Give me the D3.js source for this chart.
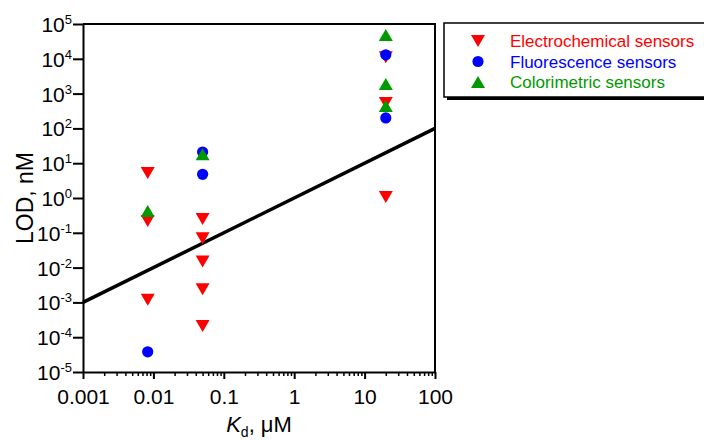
<!DOCTYPE html>
<html><head><meta charset="utf-8">
<script src="https://cdn.jsdelivr.net/npm/d3@7"></script>
<style>
html,body{margin:0;padding:0;background:#fff;}
svg{display:block;font-family:"Liberation Sans",Arial,sans-serif;}
</style></head>
<body>
<svg id="chart" width="704" height="440"></svg>
<script>
// ---- data ----
const xTickValues = [0.001, 0.01, 0.1, 1, 10, 100];
const xTickLabels = ["0.001", "0.01", "0.1", "1", "10", "100"];
const yTickValues = [1e-5, 1e-4, 1e-3, 1e-2, 1e-1, 1e0, 1e1, 1e2, 1e3, 1e4, 1e5];
const yTickExponents = ["-5", "-4", "-3", "-2", "-1", "0", "1", "2", "3", "4", "5"];

const electroKd  = [0.0083, 0.0083, 0.0083, 0.05, 0.05, 0.05, 0.05, 0.05, 20, 20, 20];
const electroLOD = [5.2, 0.22, 0.0012, 0.25, 0.07, 0.015, 0.0024, 0.00021, 11000, 540, 1.07];
const fluorKd    = [0.0083, 0.05, 0.05, 20, 20];
const fluorLOD   = [3.8e-5, 21, 4.8, 13000, 200];
const colorKd    = [0.0083, 0.05, 20, 20, 20];
const colorLOD   = [0.42, 18, 48000, 1900, 440];

const lineKd  = [0.001, 100];
const lineLOD = [0.001, 100];

const seriesNames = ["Electrochemical sensors", "Fluorescence sensors", "Colorimetric sensors"];
const seriesColors = ["#ff0000", "#0000ff", "#009a00"];
const seriesShapes = ["down", "circle", "up"];

// ---- drawing ----
const svg = d3.select("#chart");
const x = d3.scaleLog().domain([0.001, 100]).range([83, 435]);
const y = d3.scaleLog().domain([1e-5, 1e5]).range([372, 24]);

// frame (top & right)
svg.append("path")
  .attr("d", `M${x(0.001)},${y(1e5)}H${x(100)}V${y(1e-5)}`)
  .attr("fill", "none").attr("stroke", "#000").attr("stroke-width", 2);

// x minor ticks
const minor = [];
for (let e = -3; e < 2; e++) for (let k = 2; k <= 9; k++) minor.push(k * Math.pow(10, e));
svg.append("g").attr("transform", `translate(0,${y(1e-5)})`)
  .call(d3.axisBottom(x).tickValues(minor).tickSize(4).tickFormat(""))
  .call(g => g.select(".domain").remove())
  .call(g => g.selectAll("line").attr("stroke-width", 1.5));

// x axis
const xAxis = svg.append("g").attr("transform", `translate(0,${y(1e-5)})`)
  .call(d3.axisBottom(x).tickValues(xTickValues).tickSize(7).tickSizeOuter(0).tickPadding(10)
    .tickFormat((d, i) => xTickLabels[i]));
xAxis.select(".domain").attr("stroke-width", 2);
xAxis.selectAll("line").attr("stroke-width", 2);
xAxis.selectAll("text").attr("font-size", 21).attr("fill", "#000")
  .attr("font-family", "Liberation Sans, Arial, sans-serif");

// y axis
const yAxis = svg.append("g").attr("transform", `translate(${x(0.001)},0)`)
  .call(d3.axisLeft(y).tickValues(yTickValues).tickSize(10).tickSizeOuter(0).tickPadding(1)
    .tickFormat(""));
yAxis.select(".domain").attr("stroke-width", 2);
yAxis.selectAll("line").attr("stroke-width", 2);
yAxis.selectAll(".tick").each(function(d, i) {
  const t = d3.select(this).append("text")
    .attr("x", -11).attr("y", 0).attr("dy", "0.36em")
    .attr("text-anchor", "end").attr("fill", "#000")
    .attr("font-size", 21).attr("font-family", "Liberation Sans, Arial, sans-serif");
  t.append("tspan").text("10");
  t.append("tspan").attr("font-size", 13).attr("dy", "-0.62em").text(yTickExponents[i]);
});

// axis titles
svg.append("text")
  .attr("transform", `translate(33,${y(1)}) rotate(-90)`)
  .attr("text-anchor", "middle").attr("font-size", 23).attr("fill", "#000")
  .text("LOD, nM");
const xt = svg.append("text")
  .attr("x", (x(0.001) + x(100)) / 2).attr("y", 432)
  .attr("text-anchor", "middle").attr("font-size", 22).attr("fill", "#000");
xt.append("tspan").attr("font-style", "italic").text("K");
xt.append("tspan").attr("font-size", 14).attr("dy", 5).text("d");
xt.append("tspan").attr("dy", -5).text(", μM");

// regression line
svg.append("path")
  .datum(lineKd.map((k, i) => [k, lineLOD[i]]))
  .attr("d", d3.line().x(d => x(d[0])).y(d => y(d[1])))
  .attr("fill", "none").attr("stroke", "#000").attr("stroke-width", 3.5);

// symbols
function symbolPath(shape) {
  const w = 14, h = 12, r = 5.6;
  if (shape === "circle") return d3.symbol(d3.symbolCircle, Math.PI * r * r)();
  if (shape === "up") return `M0,${-h/2}L${w/2},${h/2}L${-w/2},${h/2}Z`;
  return `M0,${h/2}L${w/2},${-h/2}L${-w/2},${-h/2}Z`;
}

const seriesData = [
  electroKd.map((k, i) => [k, electroLOD[i]]),
  fluorKd.map((k, i) => [k, fluorLOD[i]]),
  colorKd.map((k, i) => [k, colorLOD[i]])
];
seriesData.forEach((data, s) => {
  svg.append("g").selectAll("path").data(data).join("path")
    .attr("transform", d => `translate(${x(d[0])},${y(d[1])})`)
    .attr("d", symbolPath(seriesShapes[s]))
    .attr("fill", seriesColors[s]);
});

// legend
const lg = svg.append("g");
lg.append("rect").attr("x", 447).attr("y", 26).attr("width", 262).attr("height", 74).attr("fill", "#000");
lg.append("rect").attr("x", 444).attr("y", 23).attr("width", 262).attr("height", 74)
  .attr("fill", "#fff").attr("stroke", "#000").attr("stroke-width", 1.5);
seriesNames.forEach((name, i) => {
  const cy = 41 + i * 20.5;
  lg.append("path").attr("transform", `translate(478,${cy})`)
    .attr("d", symbolPath(seriesShapes[i])).attr("fill", seriesColors[i]);
  lg.append("text").attr("x", 510).attr("y", cy).attr("dy", "0.36em")
    .attr("font-size", 17).attr("fill", seriesColors[i]).text(name);
});
</script>
</body></html>
